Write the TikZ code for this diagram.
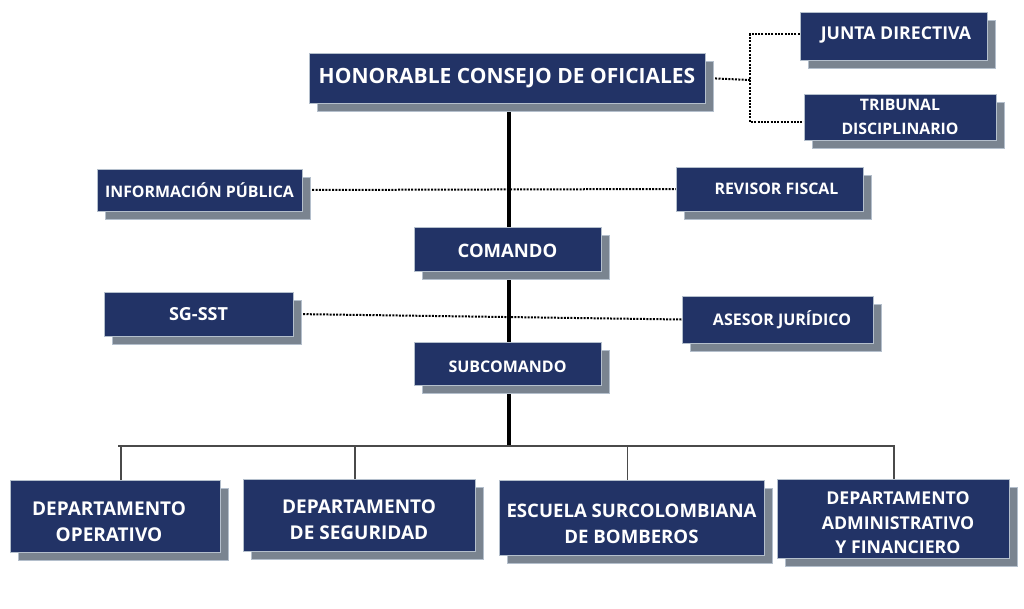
\documentclass[tikz,border=0pt]{standalone}
\usepackage{fontspec}
\setmainfont{Open Sans}
\usetikzlibrary{shadows,backgrounds}
\definecolor{navy}{HTML}{223366}
\definecolor{shade}{HTML}{7A8490}
\definecolor{rim}{HTML}{B4BFCC}
\definecolor{bus}{HTML}{4A4A4A}
\newcommand{\sh}[1]{\hspace*{#1}}
\newcommand{\dn}[1]{\rule{0pt}{#1}}
\newcommand{\upt}[1]{\rule[-#1]{0pt}{#1}}
\tikzset{
  box/.style={fill=navy, draw=rim, line width=0.6pt, text=white, align=center, inner sep=0pt,
    drop shadow={shadow xshift=8pt, shadow yshift=-8pt, fill=shade, draw=rim, opacity=1}},
  sz/.style 2 args={font=\bfseries\fontsize{#1}{#2}\selectfont},
  dotline/.style={line width=2pt, dash pattern=on 2pt off 1.3pt},
  spine/.style={line width=4.5pt},
  drop/.style={line width=1.1pt, draw=bus},
}
\begin{document}
\begin{tikzpicture}[x=1pt,y=-1pt]
\useasboundingbox (0,0) rectangle (1024,608);

\node[box, sz={21}{24}, minimum width=396, minimum height=50] (hon) at (507,78) {HONORABLE CONSEJO DE OFICIALES};
\node[box, sz={17.7}{20}, minimum width=187, minimum height=48] (junta) at (893.5,36) {\sh{5pt}\upt{6pt}JUNTA DIRECTIVA};
\node[box, sz={15.8}{24}, minimum width=192, minimum height=46] (trib) at (900,117) {TRIBUNAL\\DISCIPLINARIO};
\node[box, sz={15.9}{18}, minimum width=205, minimum height=42] (info) at (199.5,190) {INFORMACIÓN PÚBLICA};
\node[box, sz={15.9}{18}, minimum width=187, minimum height=44] (rev) at (769.5,189) {\sh{14pt}REVISOR FISCAL};
\node[box, sz={18.5}{20}, minimum width=187, minimum height=44] (com) at (507.5,249) {\dn{18pt}COMANDO};
\node[box, sz={18}{20}, minimum width=189, minimum height=44] (sg) at (198.5,314) {SG-SST};
\node[box, sz={16}{18}, minimum width=191, minimum height=47] (ase) at (777.5,319.5) {\sh{9pt}ASESOR JURÍDICO};
\node[box, sz={16}{18}, minimum width=187, minimum height=43] (sub) at (507.5,363.5) {\dn{18.5pt}SUBCOMANDO};
\node[box, sz={19}{26}, minimum width=210, minimum height=72] (d1) at (115,516) {\sh{-12pt}\dn{25pt}DEPARTAMENTO\\\sh{-12pt}OPERATIVO};
\node[box, sz={19}{26}, minimum width=232, minimum height=72] (d2) at (359,515) {\dn{24pt}DEPARTAMENTO\\DE SEGURIDAD};
\node[box, sz={18.6}{26}, minimum width=265, minimum height=75] (d3) at (631.5,517.5) {\dn{25.5pt}ESCUELA SURCOLOMBIANA\\DE BOMBEROS};
\node[box, sz={17.7}{24.5}, minimum width=232, minimum height=79] (d4) at (893,518.5) {\sh{10pt}\dn{22pt}DEPARTAMENTO\\\sh{10pt}ADMINISTRATIVO\\\sh{10pt}Y FINANCIERO};

\coordinate (split) at (750,80);
\coordinate (busl) at (118,446);
\coordinate (busr) at (895,446);
\coordinate (busm) at (509,446);

\begin{scope}[on background layer]
\draw[dotline] (hon.east) -- (split);
\draw[dotline] ([yshift=2pt]junta.west) -| (split) |- ([yshift=-5pt]trib.west);
\draw[dotline] (info.east) -- (rev.west);
\draw[dotline] (sg.east) -- (ase.west);
\draw[spine] ([xshift=2pt]hon.south) -- (busm);
\draw[drop] (busl) -- (busr);
\draw[drop] ([xshift=6pt]d1.north) -- ([xshift=6pt]d1.north |- busl);
\draw[drop] ([xshift=-4pt]d2.north) -- ([xshift=-4pt]d2.north |- busl);
\draw[drop] ([xshift=-4pt]d3.north) -- ([xshift=-4pt]d3.north |- busl);
\draw[drop] ([xshift=1pt]d4.north) -- ([xshift=1pt]d4.north |- busl);
\end{scope}
\end{tikzpicture}
\end{document}
